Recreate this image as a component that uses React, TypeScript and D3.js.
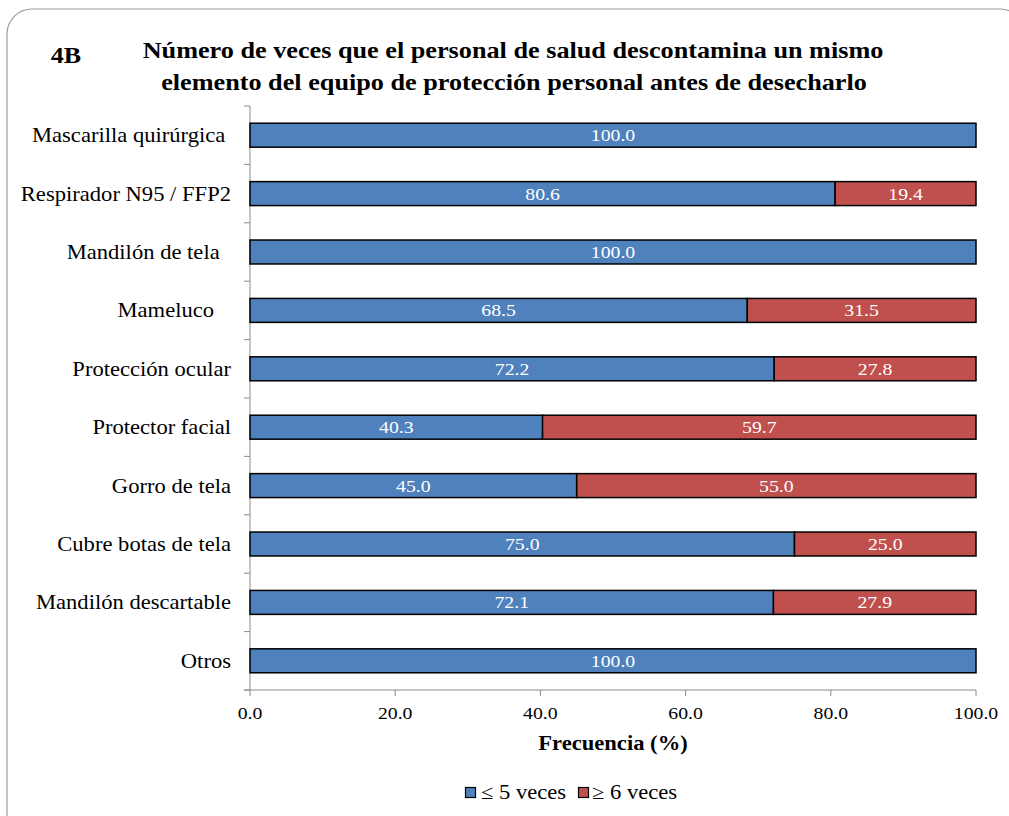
import React from "react";
import * as d3 from "d3";

const categories = [
  "Mascarilla quirúrgica ",
  "Respirador N95 / FFP2",
  "Mandilón de tela  ",
  "Mameluco   ",
  "Protección ocular",
  "Protector facial",
  "Gorro de tela",
  "Cubre botas de tela",
  "Mandilón descartable",
  "Otros",
];
const low = [100.0, 80.6, 100.0, 68.5, 72.2, 40.3, 45.0, 75.0, 72.1, 100.0];
const high = [0, 19.4, 0, 31.5, 27.8, 59.7, 55.0, 25.0, 27.9, 0];
const xTicks = [0, 20, 40, 60, 80, 100];
const seriesNames = ["≤ 5 veces", "≥ 6 veces"];
const colors = ["#4F81BD", "#C0504D"];

const SX = 1.13;
const FONT = "Liberation Serif";

function T(props: { x: number; y: number; size: number; anchor?: string; bold?: boolean; fill?: string; children: React.ReactNode }) {
  const { x, y, size, anchor = "start", bold, fill = "#000", children } = props;
  return (
    <text
      transform={`translate(${x},${y}) scale(${SX},1)`}
      fontSize={size}
      textAnchor={anchor}
      fontWeight={bold ? "bold" : "normal"}
      fill={fill}
      style={{ fontFamily: FONT, whiteSpace: "pre" }}
    >
      {children}
    </text>
  );
}

export default function App() {
  const W = 1009, H = 816;
  const left = 250, right = 976, top = 106, bottom = 690;
  const x = d3.scaleLinear().domain([0, 100]).range([left, right]);
  const y = d3
    .scaleBand()
    .domain(categories.map((_, i) => String(i)))
    .range([top, bottom])
    .paddingInner(0.59)
    .paddingOuter(0.295);
  const bounds = d3.range(categories.length + 1).map(i => top + (i * (bottom - top)) / categories.length);
  return (
    <svg width={W} height={H} style={{ position: "absolute", left: 0, top: 0 }}>
      <rect x={0} y={0} width={W} height={H} fill="#fff" />
      <rect x={7} y={9} width={1018} height={860} rx={25} fill="#fff" stroke="#9a9a9a" strokeWidth={1.2} />
      <T x={66} y={63} size={23} bold anchor="middle">4B</T>
      <T x={513} y={58} size={23.2} bold anchor="middle">Número de veces que el personal de salud descontamina un mismo</T>
      <T x={514} y={90} size={23.2} bold anchor="middle">elemento del equipo de protección personal antes de desecharlo</T>
      {/* axes */}
      <line x1={left} x2={left} y1={top} y2={bottom} stroke="#8c8c8c" strokeWidth={1} />
      {bounds.map((b, i) => (
        <line key={"yt" + i} x1={left - 6} x2={left} y1={b} y2={b} stroke="#8c8c8c" strokeWidth={1} />
      ))}
      <line x1={left - 6} x2={right} y1={bottom} y2={bottom} stroke="#8c8c8c" strokeWidth={1} />
      {xTicks.map(t => (
        <g key={"xt" + t}>
          <line x1={x(t)} x2={x(t)} y1={bottom} y2={bottom + 6} stroke="#8c8c8c" strokeWidth={1} />
          <T x={x(t)} y={719} size={17.5} anchor="middle">{t.toFixed(1)}</T>
        </g>
      ))}
      <T x={x(50)} y={750} size={20} bold anchor="middle">Frecuencia (%)</T>
      {categories.map((c, i) => {
        const yy = y(String(i))!;
        const h = y.bandwidth();
        const cy = yy + h / 2;
        return (
          <g key={c}>
            <T x={231} y={cy + 7} size={20} anchor="end">{c}</T>
            <rect x={x(0)} y={yy} width={x(low[i]) - x(0)} height={h} fill={colors[0]} stroke="#000" strokeWidth={1.5} />
            <T x={(x(0) + x(low[i])) / 2} y={cy + 6} size={17.5} fill="#fff" anchor="middle">{low[i].toFixed(1)}</T>
            {high[i] > 0 && (
              <>
                <rect x={x(low[i])} y={yy} width={x(low[i] + high[i]) - x(low[i])} height={h} fill={colors[1]} stroke="#000" strokeWidth={1.5} />
                <T x={(x(low[i]) + x(low[i] + high[i])) / 2} y={cy + 6} size={17.5} fill="#fff" anchor="middle">{high[i].toFixed(1)}</T>
              </>
            )}
          </g>
        );
      })}
      {/* legend */}
      <rect x={465.5} y={787.5} width={10} height={10} fill={colors[0]} stroke="#000" strokeWidth={1.2} />
      <T x={481} y={799} size={20}>{seriesNames[0]}</T>
      <rect x={578.5} y={787.5} width={10} height={10} fill={colors[1]} stroke="#000" strokeWidth={1.2} />
      <T x={592} y={799} size={20}>{seriesNames[1]}</T>
    </svg>
  );
}
